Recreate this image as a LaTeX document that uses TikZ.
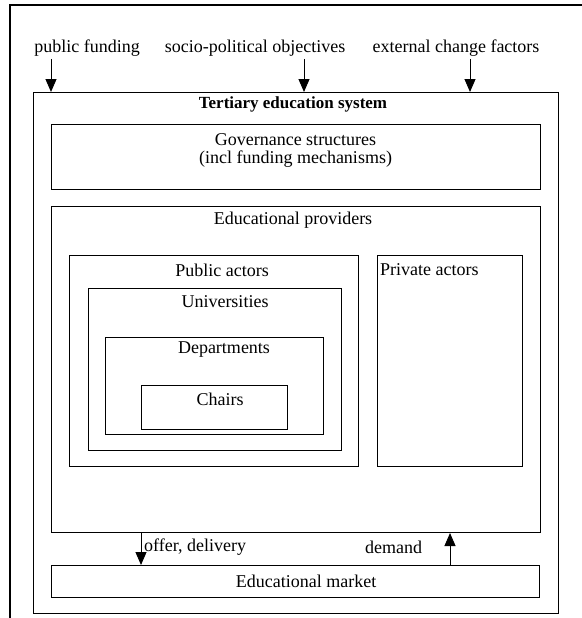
\documentclass[tikz,border=0pt]{standalone}
\usepackage{fontspec}
\setmainfont{Liberation Serif}
\usetikzlibrary{arrows.meta}
\begin{document}
\begin{tikzpicture}[x=1pt,y=-1pt,
  box/.style={draw=black, line width=1pt, inner sep=0pt, anchor=north west},
  lbl/.style={inner sep=0pt, font=\fontsize{18}{21}\selectfont},
  ttl/.style={inner sep=0pt, font=\fontsize{17}{19}\selectfont\bfseries},
  arr/.style={line width=1pt, -{Triangle[width=11pt,length=13pt]}}]
\useasboundingbox (0,0) rectangle (581,618);
% outer frame
\draw[line width=2.2pt] (10,618) -- (10,5) -- (585,5);
% boxes
\node[box, minimum width=525pt, minimum height=521pt] (system) at (33,92) {};
\node[box, minimum width=489pt, minimum height=65pt] (gov) at (51,124) {};
\node[box, minimum width=489pt, minimum height=326pt] (prov) at (51,206) {};
\node[box, minimum width=289pt, minimum height=211pt] (pub) at (69,255) {};
\node[box, minimum width=253pt, minimum height=162pt] (univ) at (88,288) {};
\node[box, minimum width=218pt, minimum height=97pt] (dept) at (105,337) {};
\node[box, minimum width=146pt, minimum height=44pt] (chairs) at (141,385) {};
\node[box, minimum width=145pt, minimum height=211pt] (priv) at (377,255) {};
\node[box, minimum width=488pt, minimum height=32pt] (market) at (51,565) {};
% top labels
\node[lbl] (tpf) at (87,48) {public funding};
\node[lbl] (tsp) at (255,48) {socio-political objectives};
\node[lbl] (tex) at (456,48) {external change factors};
\coordinate (cpf) at (51,59);
\coordinate (csp) at (304,59);
\coordinate (cex) at (470,59);
\draw[arr] (cpf) -- (cpf |- system.north);
\draw[arr] (csp) -- (csp |- system.north);
\draw[arr] (cex) -- (cex |- system.north);
% inner labels
\node[ttl] (ttitle) at (293,104) {Tertiary education system};
\node[lbl] (tgov1) at (295.5,140) {Governance structures};
\node[lbl] (tgov2) at (295.5,159) {(incl funding mechanisms)};
\node[lbl] (tprov) at (293,220) {Educational providers};
\node[lbl] (tpub) at (222,270) {Public actors};
\node[lbl] (tuniv) at (225,302) {Universities};
\node[lbl] (tdept) at (224,350) {Departments};
\node[lbl] (tchairs) at (220,399) {Chairs};
\node[lbl, anchor=west] (tpriv) at (380,270) {Private actors};
\node[lbl] (tmarket) at (306,581) {Educational market};
% bottom flows
\coordinate (coff) at (141,548);
\coordinate (cdem) at (450,548);
\draw[arr] (prov.south -| coff) -- (market.north -| coff);
\draw[arr] (market.north -| cdem) -- (prov.south -| cdem);
\node[lbl, anchor=west] (toff) at (144,547) {offer, delivery};
\node[lbl, anchor=west] (tdem) at (365,547) {demand};
\end{tikzpicture}
\end{document}
